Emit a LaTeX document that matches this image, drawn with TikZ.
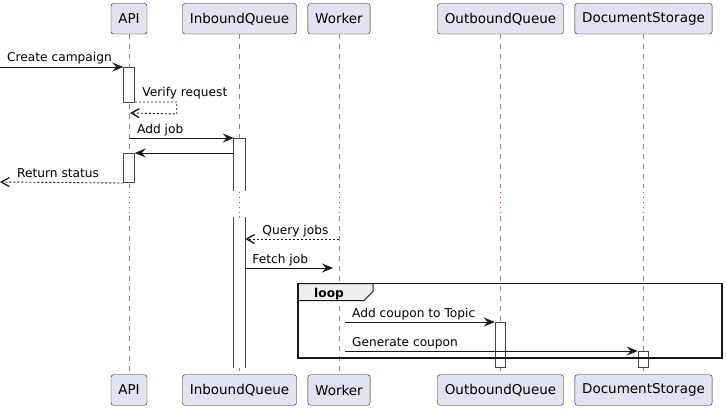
\documentclass[tikz,border=0pt]{standalone}
\usepackage{fontspec}
\setmainfont{DejaVu Sans}
\usetikzlibrary{arrows.meta}
\definecolor{partfill}{HTML}{E2E2F0}
\definecolor{umlline}{HTML}{181818}
\definecolor{lifegray}{HTML}{8C8C8C}
\definecolor{delaydot}{HTML}{C8507E}
\definecolor{tabfill}{HTML}{EEEEEE}
\begin{document}
\begin{tikzpicture}[x=1pt,y=-1pt]
      \useasboundingbox (0,0) rectangle (727,409);
      \coordinate (origo) at (0,0);
      
      \tikzstyle{participant} = [
        rectangle,
        draw=umlline,
        fill=partfill,
        rounded corners=2.5pt,
        minimum height=30.5pt,
        inner xsep=7.3pt,
        font=\fontsize{13.5}{16}\selectfont
      ]
      \tikzstyle{activation} = [
        rectangle,
        draw=umlline!80,
        fill=white,
        line width=1pt,
        anchor=north,
        inner sep=0pt,
        minimum width=10.5pt
      ]
      \tikzstyle{msglabel} = [
        draw=none,
        anchor=base west,
        inner sep=0pt,
        font=\fontsize{12.2}{14}\selectfont
      ]
      
      \tikzstyle{lifeline} = [draw=lifegray, line width=0.7pt, dash pattern=on 5pt off 5pt]
      \tikzstyle{delayline} = [draw=delaydot, line width=1pt, dash pattern=on 1.2pt off 3.8pt]
      \tikzstyle{arrow} = [draw=umlline, line width=0.9pt, -{Stealth[length=11pt,width=9pt,inset=4pt]}]
      \tikzstyle{reply} = [draw=umlline, line width=0.9pt, dash pattern=on 2pt off 2pt, -{Straight Barb[length=8pt,width=9pt,line width=1.3pt]}]
      
      % participants
      \node[participant] (apiTop) at ([xshift=129pt,yshift=-18.75pt] origo) {API};
      \node[participant] (inboundTop) at ([xshift=239.5pt,yshift=-18.75pt] origo) {InboundQueue};
      \node[participant] (workerTop) at ([xshift=339pt,yshift=-18.75pt] origo) {Worker};
      \node[participant] (outboundTop) at ([xshift=500.5pt,yshift=-18.75pt] origo) {OutboundQueue};
      \node[participant] (storageTop) at ([xshift=643.5pt,yshift=-18.75pt] origo) {DocumentStorage};
      
      \node[participant] (apiBottom) at ([xshift=129pt,yshift=-390pt] origo) {API};
      \node[participant] (inboundBottom) at ([xshift=239.5pt,yshift=-390pt] origo) {InboundQueue};
      \node[participant] (workerBottom) at ([xshift=339pt,yshift=-390pt] origo) {Worker};
      \node[participant] (outboundBottom) at ([xshift=500.5pt,yshift=-390pt] origo) {OutboundQueue};
      \node[participant] (storageBottom) at ([xshift=643.5pt,yshift=-390pt] origo) {DocumentStorage};
      
      % delay
      \coordinate (delayTop) at (0,187);
      \coordinate (delayBottom) at (0,216);
      
      % lifelines
      \draw[lifeline] (apiTop.south) -- (apiTop.south |- delayTop);
      \draw[delayline] (apiTop.south |- delayTop) -- (apiTop.south |- delayBottom);
      \draw[lifeline] (apiTop.south |- delayBottom) -- (apiBottom.north);
      
      \draw[lifeline] (inboundTop.south) -- (inboundTop.south |- delayTop);
      \draw[delayline] (inboundTop.south |- delayTop) -- (inboundTop.south |- delayBottom);
      \draw[lifeline] (inboundTop.south |- delayBottom) -- (inboundBottom.north);
      
      \draw[lifeline] (workerTop.south) -- (workerTop.south |- delayTop);
      \draw[delayline] (workerTop.south |- delayTop) -- (workerTop.south |- delayBottom);
      \draw[lifeline] (workerTop.south |- delayBottom) -- (workerBottom.north);
      
      \draw[lifeline] (outboundTop.south) -- (outboundTop.south |- delayTop);
      \draw[delayline] (outboundTop.south |- delayTop) -- (outboundTop.south |- delayBottom);
      \draw[lifeline] (outboundTop.south |- delayBottom) -- (outboundBottom.north);
      
      \draw[lifeline] (storageTop.south) -- (storageTop.south |- delayTop);
      \draw[delayline] (storageTop.south |- delayTop) -- (storageTop.south |- delayBottom);
      \draw[lifeline] (storageTop.south |- delayBottom) -- (storageBottom.north);
      
      % activations
      \node[activation, minimum height=35pt] (apiAct1) at (129,67) {};
      \node[activation, minimum height=29pt] (apiAct2) at (129,153) {};
      \node[activation, draw=none, minimum height=52pt] (inboundAct1) at (239.5,138) {};
      \node[activation, draw=none, minimum height=150pt] (inboundAct2) at (239.5,217) {};
      \node[activation, minimum height=45pt] (outboundAct) at (500.5,322) {};
      \node[activation, minimum height=16pt] (storageAct) at (643.5,351) {};
      
      \draw[umlline!80, line width=1pt] (inboundAct1.south west) -- (inboundAct1.north west) -- (inboundAct1.north east) -- (inboundAct1.south east);
      \draw[umlline!80, line width=1pt] (inboundAct2.north west) -- (inboundAct2.south west);
      \draw[umlline!80, line width=1pt] (inboundAct2.north east) -- (inboundAct2.south east);
      
      % message ends
      \coordinate (createStart) at (0,67);
      \coordinate (verifyEnd) at (130,113);
      \coordinate (addJobStart) at (129,138);
      \coordinate (ackStart) at (234,153);
      \coordinate (returnEnd) at (0,182);
      \coordinate (queryStart) at (339,239);
      \coordinate (fetchEnd) at (333,268);
      \coordinate (couponStart) at (345,322);
      \coordinate (generateStart) at (345,351);
      
      % messages
      \draw[arrow] (createStart) -- (apiAct1.north west);
      \node[msglabel] (createLabel) at ([xshift=7pt,yshift=5pt] createStart) {Create campaign};
      
      \draw[reply] ([yshift=1pt] apiAct1.south east) -- ++(42,0) -- ++(0,12) -- (verifyEnd);
      \node[msglabel] (verifyLabel) at ([xshift=7.5pt,yshift=6pt] apiAct1.south east) {Verify request};
      
      \draw[arrow] (addJobStart) -- (inboundAct1.north west);
      \node[msglabel] (addJobLabel) at ([xshift=8pt,yshift=5pt] addJobStart) {Add job};
      
      \draw[arrow] (ackStart) -- (apiAct2.north east);
      
      \draw[reply] (apiAct2.south west) -- (returnEnd);
      \node[msglabel] (returnLabel) at ([xshift=17pt,yshift=5pt] returnEnd) {Return status};
      
      \draw[reply] (queryStart) -- (inboundAct2.east |- queryStart);
      \node[msglabel] (queryLabel) at ([xshift=17pt,yshift=5pt] inboundAct2.east |- queryStart) {Query jobs};
      
      \draw[arrow] (inboundAct2.east |- fetchEnd) -- (fetchEnd);
      \node[msglabel] (fetchLabel) at ([xshift=7pt,yshift=5pt] inboundAct2.east |- fetchEnd) {Fetch job};
      
      \draw[arrow] (couponStart) -- (outboundAct.north west);
      \node[msglabel] (couponLabel) at ([xshift=7pt,yshift=5pt] couponStart) {Add coupon to Topic};
      
      \draw[arrow] (generateStart) -- (storageAct.north west);
      \node[msglabel] (generateLabel) at ([xshift=7pt,yshift=5pt] generateStart) {Generate coupon};
      
      % loop
      \coordinate (loopNW) at (298,283.5);
      \coordinate (loopSE) at (722,358);
      \draw[umlline, line width=1pt, fill=tabfill] (loopNW) -- ++(75,0) -- ++(0,8) -- ++(-9,9) -- ++(-66,0) -- cycle;
      \node[msglabel, font=\fontsize{12.2}{14}\selectfont\bfseries] (loopLabel) at ([xshift=16pt,yshift=-13.5pt] loopNW) {loop};
      \draw[umlline, line width=1.5pt] (loopNW) rectangle (loopSE);
    \end{tikzpicture}
\end{document}
